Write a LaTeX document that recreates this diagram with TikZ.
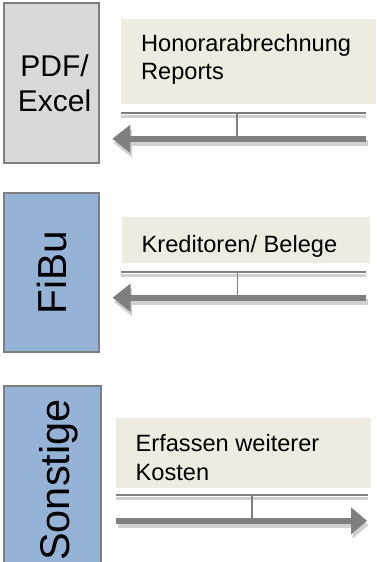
\documentclass[tikz,border=0pt]{standalone}
\usepackage{fontspec}
\setmainfont{Liberation Sans}
\usetikzlibrary{arrows.meta}
\definecolor{bordergray}{HTML}{7F7F7F}
\definecolor{boxgray}{HTML}{D9D9D9}
\definecolor{boxblue}{HTML}{95B3D7}
\definecolor{lblfill}{HTML}{EEECE1}
\definecolor{arrowgray}{HTML}{7F7F7F}
\definecolor{shadowgray}{HTML}{D0D0D0}
\begin{document}
\begin{tikzpicture}[x=1pt,y=-1pt,
  srcbox/.style={draw=bordergray, line width=2pt, inner sep=0pt, minimum width=95pt},
  srctext/.style={inner sep=0pt, align=center, font=\fontsize{30}{35}\selectfont},
  rottext/.style={inner sep=0pt, rotate=90, anchor=base, font=\fontsize{40.5}{48}\selectfont},
  lblbox/.style={fill=lblfill, inner sep=0pt, anchor=north west},
  lbltext/.style={inner sep=0pt, align=left, anchor=base west, font=\fontsize{23.6}{28.2}\selectfont},
  flow/.style={draw=arrowgray, line width=5.7pt, -{Triangle[length=18pt,width=27pt]}},
  flowshadow/.style={flow, draw=shadowgray, transform canvas={xshift=1.5pt,yshift=-4.5pt}},
  rule/.style={draw=arrowgray, line width=2pt},
  ruleshadow/.style={draw=shadowgray, line width=3pt, transform canvas={yshift=-3.5pt}},
  tick/.style={draw=arrowgray, line width=1.2pt}]
\useasboundingbox (0,0) rectangle (376,562);
\clip (0,0) rectangle (376,562);

% source boxes
\node[srcbox, fill=boxgray, minimum height=160pt] (pdf) at (51.5,83) {};
\node[srctext, anchor=base] (pdftext) at (54.5,111.7) {PDF/\\Excel};
\node[srcbox, fill=boxblue, minimum height=159pt] (fibu) at (51.5,272.8) {};
\node[rottext] (fibutext) at (66.7,272.5) {FiBu};
\node[srcbox, fill=boxblue, minimum height=190pt, minimum width=97pt] (sonst) at (52,481) {};
\node[rottext, font=\fontsize{41.5}{48}\selectfont] (sonsttext) at (69.5,480) {Sonstige};

% label boxes
\node[lblbox, minimum width=255pt, minimum height=85pt] (lb1) at (121,19) {};
\node[lbltext] (lt1) at (141,79.9) {Honorarabrechnung\\Reports};
\node[lblbox, minimum width=248pt, minimum height=46pt] (lb2) at (122,217) {};
\node[lbltext] (lt2) at (141.5,252) {Kreditoren/ Belege};
\node[lblbox, minimum width=255pt, minimum height=70pt] (lb3) at (116,418) {};
\node[lbltext] (lt3) at (135.5,480) {Erfassen weiterer\\Kosten};

% row 1
\coordinate (d1a) at (121,113);
\coordinate (d1b) at (366,113);
\coordinate (k1) at (237,113);
\coordinate (a1s) at (366,138.8);
\coordinate (a1e) at (112.3,138.8);
\draw[ruleshadow] (d1a) -- (d1b);
\draw[rule] (d1a) -- (d1b);
\draw[flowshadow] (a1s) -- (a1e);
\draw[tick] (k1) -- (k1 |- a1s);
\draw[flow] (a1s) -- (a1e);

% row 2
\coordinate (d2a) at (121,272.3);
\coordinate (d2b) at (366,272.3);
\coordinate (k2) at (237.3,272.3);
\coordinate (a2s) at (366,297.7);
\coordinate (a2e) at (112.5,297.7);
\draw[ruleshadow] (d2a) -- (d2b);
\draw[rule] (d2a) -- (d2b);
\draw[flowshadow] (a2s) -- (a2e);
\draw[tick] (k2) -- (k2 |- a2s);
\draw[flow] (a2s) -- (a2e);

% row 3
\coordinate (d3a) at (116,494.7);
\coordinate (d3b) at (368,494.7);
\coordinate (k3) at (252,494.7);
\coordinate (a3s) at (116,520.8);
\coordinate (a3e) at (367,520.8);
\draw[ruleshadow] (d3a) -- (d3b);
\draw[rule] (d3a) -- (d3b);
\draw[flowshadow, -{Triangle[length=16pt,width=26pt]}] (a3s) -- (a3e);
\draw[tick] (k3) -- (k3 |- a3s);
\draw[flow, -{Triangle[length=16pt,width=26pt]}] (a3s) -- (a3e);
\end{tikzpicture}
\end{document}
